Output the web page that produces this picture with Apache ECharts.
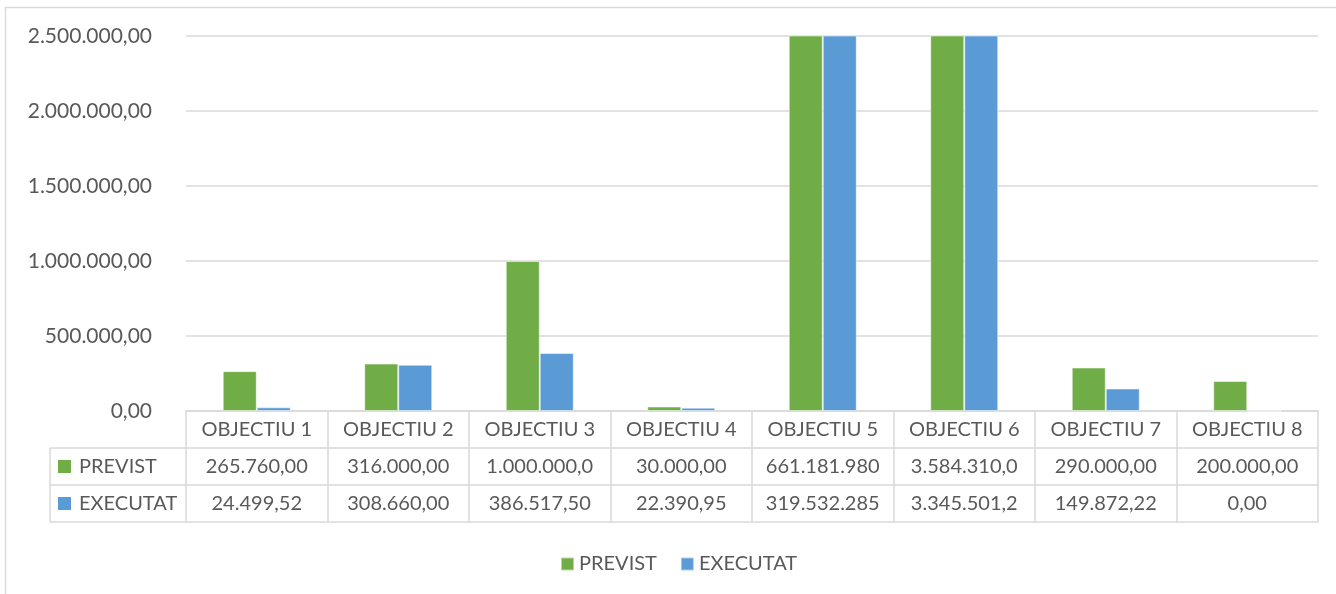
<!DOCTYPE html>
<html>
<head>
<meta charset="utf-8">
<script src="https://cdn.jsdelivr.net/npm/echarts@6/dist/echarts.min.js"></script>
<style>
html,body{margin:0;padding:0;background:#fff;}
#chart{width:1336px;height:594px;}
</style>
</head>
<body>
<div id="chart"></div>
<script>
const categories = ['OBJECTIU 1','OBJECTIU 2','OBJECTIU 3','OBJECTIU 4','OBJECTIU 5','OBJECTIU 6','OBJECTIU 7','OBJECTIU 8'];
const seriesNames = ['PREVIST','EXECUTAT'];
const previst = [265760.00, 316000.00, 1000000.00, 30000.00, 661181980.00, 3584310.00, 290000.00, 200000.00];
const executat = [24499.52, 308660.00, 386517.50, 22390.95, 319532285.00, 3345501.20, 149872.22, 0.00];
const yMax = 2500000;
const yInterval = 500000;

const GREEN = '#70AD47', BLUE = '#5B9BD5', TXT = '#595959', LINE = '#d9d9d9';
const FONT = 'Lato';

function fmt(v){
  const parts = v.toFixed(2).split('.');
  const intPart = parts[0].replace(/\B(?=(\d{3})+(?!\d))/g, '.');
  return intPart + ',' + parts[1];
}
function cell(v){ return fmt(v).slice(0, 11); }

const chart = echarts.init(document.getElementById('chart'));
const tickStyle = {show:true, length:37, interval:0, alignWithLabel:false, lineStyle:{color:LINE, width:1.5}};
const lineStyle = {show:true, lineStyle:{color:LINE, width:1.5}};

function rowAxis(offset, values){
  return {
    type:'category', position:'bottom', offset:offset, data:categories,
    axisLine: lineStyle, axisTick: tickStyle,
    axisLabel:{interval:0, margin:9, fontSize:20, color:TXT, fontFamily:FONT,
      formatter:function(v, i){ return values ? cell(values[i]) : v; }}
  };
}

const option = {
  animation:false,
  textStyle:{fontFamily:FONT},
  grid:{left:186, right:18, top:36, bottom:183},
  legend:{
    data:seriesNames, left:555, top:549, icon:'rect', itemWidth:13, itemHeight:13, itemGap:23,
    textStyle:{fontSize:20, color:TXT, fontFamily:FONT}
  },
  xAxis:[
    rowAxis(0, null),
    rowAxis(37, previst),
    rowAxis(74, executat),
    {type:'category', position:'bottom', offset:111, data:categories, axisLine:lineStyle,
     axisTick:{show:false}, axisLabel:{show:false}}
  ],
  yAxis:{
    type:'value', min:0, max:yMax, interval:yInterval,
    axisLine:{show:false}, axisTick:{show:false},
    splitLine:{lineStyle:{color:LINE, width:1.5}},
    axisLabel:{margin:34, fontSize:21, color:TXT, fontFamily:FONT, formatter:function(v){ return fmt(v); }}
  },
  series:[
    {name:seriesNames[0], type:'bar', xAxisIndex:0, data:previst, barWidth:34, barGap:'0%',
     itemStyle:{color:GREEN, borderColor:'rgba(255,255,255,0.5)', borderWidth:1}},
    {name:seriesNames[1], type:'bar', xAxisIndex:0, data:executat, barWidth:34, barGap:'0%',
     itemStyle:{color:BLUE, borderColor:'rgba(255,255,255,0.5)', borderWidth:1}}
  ],
  graphic:[
    {type:'rect', z:-10, shape:{x:5.5, y:7.5, width:1400, height:700}, style:{fill:null, stroke:LINE, lineWidth:1.5}},
    {type:'line', shape:{x1:50, y1:448, x2:186, y2:448}, style:{stroke:LINE, lineWidth:1.5}},
    {type:'line', shape:{x1:50, y1:485, x2:186, y2:485}, style:{stroke:LINE, lineWidth:1.5}},
    {type:'line', shape:{x1:50, y1:522, x2:186, y2:522}, style:{stroke:LINE, lineWidth:1.5}},
    {type:'line', shape:{x1:50, y1:448, x2:50, y2:522}, style:{stroke:LINE, lineWidth:1.5}},
    {type:'rect', shape:{x:58, y:460, width:13, height:13}, style:{fill:GREEN}},
    {type:'text', x:79, y:467, style:{text:seriesNames[0], fill:TXT, font:'20px Lato', verticalAlign:'middle'}},
    {type:'rect', shape:{x:58, y:497, width:13, height:13}, style:{fill:BLUE}},
    {type:'text', x:79, y:504, style:{text:seriesNames[1], fill:TXT, font:'20px Lato', verticalAlign:'middle'}}
  ]
};
chart.setOption(option);
</script>
</body>
</html>
